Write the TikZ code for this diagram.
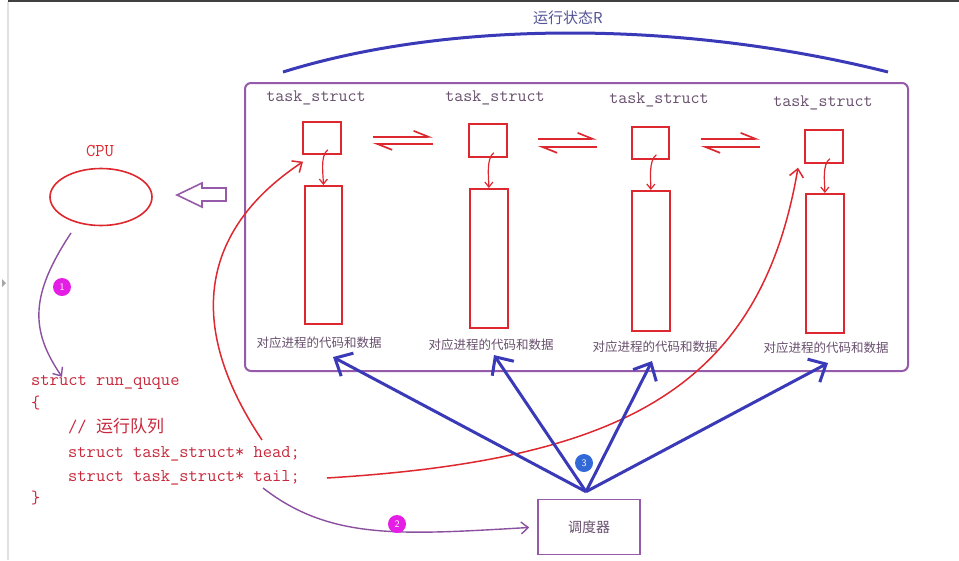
\documentclass[tikz,border=0pt]{standalone}
\usepackage{fontspec}
\newfontfamily\cjk{Noto Sans CJK SC}
\usetikzlibrary{arrows.meta,calc,shapes.geometric}
\definecolor{rred}{RGB}{222,40,48}
\definecolor{codered}{RGB}{200,40,60}
\definecolor{pbox}{RGB}{150,90,170}
\definecolor{parr}{RGB}{140,80,160}
\definecolor{ptext}{RGB}{105,80,110}
\definecolor{bblue}{RGB}{58,58,185}
\definecolor{titleblue}{RGB}{85,85,150}
\definecolor{magb}{RGB}{228,30,228}
\definecolor{badgeblue}{RGB}{50,105,215}
\tikzset{
  redbox/.style={draw=rred, line width=1.7pt, inner sep=0pt, anchor=north west},
  tasklbl/.style={text=ptext, font=\fontsize{17.5}{20}\selectfont\ttfamily, inner sep=0pt},
  datalbl/.style={text=ptext, font=\fontsize{12.5}{14}\selectfont\cjk, inner sep=0pt},
  codeln/.style={text=codered, font=\fontsize{18}{20}\selectfont\ttfamily, inner sep=0pt, anchor=base west},
  smallarr/.style={rred, line width=1.2pt, -{Straight Barb[length=5pt,width=8pt]}},
  harp/.style={rred, line width=1.7pt, -{Straight Barb[left,length=15pt,width=12pt]}},
  redline/.style={rred, line width=1.5pt, -{Straight Barb[length=8pt,width=14pt]}},
  purparrow/.style={parr, line width=1.4pt, -{Straight Barb[length=7pt,width=12pt]}},
  bluearrow/.style={bblue, line width=3pt, -{Straight Barb[length=14pt,width=26pt]}},
  badge/.style={circle, fill=#1, text=white, inner sep=0pt, minimum size=18pt, font=\fontsize{10}{11}\selectfont\sffamily},
}
\begin{document}
\begin{tikzpicture}[x=1pt,y=-1pt]
\useasboundingbox (0,0) rectangle (959,560);
\fill[white] (0,0) rectangle (959,560);
% screenshot frame
\fill[black!75] (8,0) rectangle (959,2);
\draw[black!12, line width=1.5pt] (8,2) -- (8,560);
\fill[black!35] (2,279) -- (6,283) -- (2,287) -- cycle;

% running state brace
\node[text=titleblue, font=\fontsize{15}{17}\selectfont\cjk, inner sep=0pt] (title) at (568,18) {运行状态R};
\draw[bblue, line width=3pt] (283,72) .. controls (450,20) and (680,20) .. (888,72);

% run queue container
\node[draw=pbox, line width=2pt, rounded corners=6pt, minimum width=663pt, minimum height=288pt, anchor=north west, inner sep=0pt] (rq) at (244,82) {};

% task structs
\node[tasklbl] (tl1) at (316,98) {task\_struct};
\node[tasklbl] (tl2) at (495,98) {task\_struct};
\node[tasklbl] (tl3) at (659,100) {task\_struct};
\node[tasklbl] (tl4) at (823,103) {task\_struct};

\node[redbox, minimum width=38pt, minimum height=32pt] (b1) at (302,121) {};
\node[redbox, minimum width=38pt, minimum height=33pt] (b2) at (468,123) {};
\node[redbox, minimum width=37pt, minimum height=32pt] (b3) at (631,126) {};
\node[redbox, minimum width=38pt, minimum height=33pt] (b4) at (804,129) {};

\node[redbox, minimum width=37pt, minimum height=138pt] (t1) at (304,185) {};
\node[redbox, minimum width=38pt, minimum height=139pt] (t2) at (469,188) {};
\node[redbox, minimum width=38pt, minimum height=140pt] (t3) at (631,190) {};
\node[redbox, minimum width=38pt, minimum height=139pt] (t4) at (805,193) {};

\draw[smallarr] ([shift={(6pt,5pt)}]b1.south) .. controls +(-8,6) and +(0,-10) .. (t1.north);
\draw[smallarr] ([shift={(6pt,5pt)}]b2.south) .. controls +(-8,6) and +(0,-10) .. (t2.north);
\draw[smallarr] ([shift={(6pt,5pt)}]b3.south) .. controls +(-8,6) and +(0,-10) .. (t3.north);
\draw[smallarr] ([shift={(6pt,5pt)}]b4.south) .. controls +(-8,6) and +(0,-10) .. (t4.north);

% double harpoons
\draw[harp] ([xshift=31pt,yshift=1pt]b1.east) -- ([xshift=-35pt,yshift=1pt]b1.east -| b2.west);
\draw[harp] ([xshift=-35pt,yshift=-6pt]b1.east -| b2.west) -- ([xshift=31pt,yshift=-6pt]b1.east);
\draw[harp] ([xshift=30pt,yshift=1.5pt]b2.east) -- ([xshift=-34pt,yshift=1.5pt]b2.east -| b3.west);
\draw[harp] ([xshift=-34pt,yshift=-6.5pt]b2.east -| b3.west) -- ([xshift=30pt,yshift=-6.5pt]b2.east);
\draw[harp] ([xshift=31pt,yshift=4pt]b3.east) -- ([xshift=-44pt,yshift=4pt]b3.east -| b4.west);
\draw[harp] ([xshift=-44pt,yshift=-4pt]b3.east -| b4.west) -- ([xshift=31pt,yshift=-4pt]b3.east);

% data labels
\node[datalbl] (d1) at (319,343) {对应进程的代码和数据};
\node[datalbl] (d2) at (491,345) {对应进程的代码和数据};
\node[datalbl] (d3) at (655,347) {对应进程的代码和数据};
\node[datalbl] (d4) at (826,348) {对应进程的代码和数据};

% CPU
\node[text=rred, font=\fontsize{18}{20}\selectfont\ttfamily, inner sep=0pt] (cpulbl) at (100,151) {CPU};
\node[ellipse, draw=rred, line width=1.6pt, minimum width=102pt, minimum height=57pt, inner sep=0pt] (cpu) at (101,197) {};
% hollow arrow toward CPU
\draw[pbox, line width=1.6pt, line join=miter] (226,188) -- (202,188) -- (202,183) -- (177,195) -- (202,207) -- (202,201) -- (226,201) -- cycle;

% code
\node[codeln] (c1) at (31,385) {struct run\_quque};
\node[codeln] (c2) at (31,408) {\{};
\node[codeln] (c3) at (68,432) {// {\cjk\fontsize{17}{20}\selectfont 运行队列}};
\node[codeln] (c4) at (68,457) {struct task\_struct* head;};
\node[codeln] (c5) at (68,481) {struct task\_struct* tail;};
\node[codeln] (c6) at (31,503) {\}};

% arrow 1
\coordinate (s1) at (71,233);
\draw[purparrow] (s1) .. controls (30,295) and (30,330) .. ([xshift=31pt,yshift=-2pt]c1.north west);
\node[badge=magb] (n1) at (62,287) {1};

% head pointer
\coordinate (hs) at (262,440);
\draw[redline] (hs) .. controls (175,310) and (215,220) .. ([shift={(1pt,-7pt)}]b1.south west);

% tail pointer
\coordinate (ts) at (327,478);
\draw[redline] (ts) .. controls (620,460) and (760,390) .. ([shift={(-6pt,-4pt)}]b4.south west);

% scheduler
\node[draw=pbox, line width=1.6pt, minimum width=102pt, minimum height=55pt, inner sep=0pt, text=ptext, font=\fontsize{14}{16}\selectfont\cjk] (sch) at (589,527) {调度器};

% arrow 2
\coordinate (s2) at (263,488);
\draw[purparrow, shorten >=8pt] (s2) .. controls (330,540) and (400,535) .. (sch.west);
\node[badge=magb] (n2) at (397,524) {2};

% scheduler arrows
\coordinate (apex) at ([shift={(-3pt,7pt)}]sch.north);
\draw[bluearrow] (apex) -- ([shift={(14pt,-8pt)}]d1.south);
\draw[bluearrow] (apex) -- ([shift={(3pt,-4pt)}]d2.south);
\draw[bluearrow] (apex) -- ([shift={(-3pt,-8pt)}]d3.south);
\draw[bluearrow] (apex) -- ([shift={(2pt,-9pt)}]d4.south);
\node[badge=badgeblue] (n3) at (584,463) {3};
\end{tikzpicture}
\end{document}
